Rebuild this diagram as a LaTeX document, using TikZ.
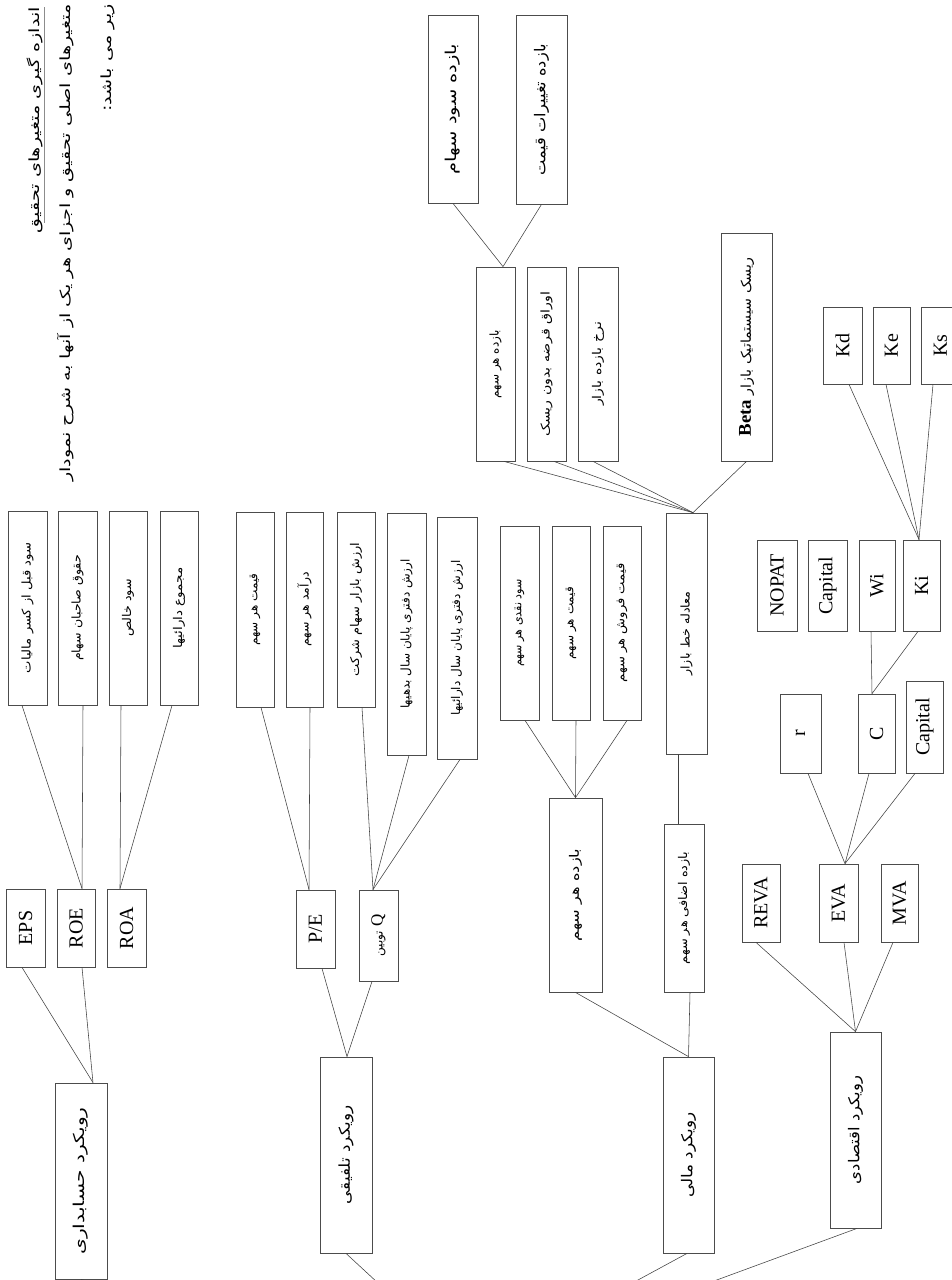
\documentclass[tikz,border=0pt]{standalone}
\usepackage{fontspec}
\usepackage{graphicx}
\setmainfont{Liberation Serif}
\newfontfamily\farsi[Script=Arabic]{DejaVu Sans}
\TeXXeTstate=1
\newcommand\fatxt[2][1.05]{\rotatebox{90}{\scalebox{#1}[1]{\farsi\beginR #2\endR}}}
\newcommand\latxt[1]{\rotatebox{90}{#1}}
\begin{document}
\begin{tikzpicture}[x=1pt,y=-1pt,
  box/.style={draw=black!70,line width=0.8pt,inner sep=0pt,fill=white},
  wh/.style 2 args={minimum width=#1pt,minimum height=#2pt},
  link/.style={draw=black!75,line width=0.55pt},
  ptxt/.style={font=\fontsize{12}{14}\selectfont},
  ptxtbig/.style={font=\fontsize{15}{17}\selectfont},
  ltxt/.style={font=\fontsize{20}{22}\selectfont},
  ttl/.style={inner sep=0pt,font=\fontsize{14}{16}\selectfont,anchor=north},
  ul/.style={draw=black!45,line width=0.5pt}]
\useasboundingbox (0,0) rectangle (952,1280);
\fill[white] (0,0) rectangle (952,1280);
\clip (0,0) rectangle (952,1280);

% title
\node[ttl] (t1) at (35,7) {\fatxt[1.37]{اندازه گیری متغیرهای تحقیق}};
\node[ttl] (t2) at (65.5,4) {\fatxt[1.37]{متغیرهای اصلی تحقیق و اجزای هر یک از آنها به شرح نمودار}};
\node[ttl] (t3) at (107.5,4) {\fatxt[1.37]{زیر می باشد:}};
\draw[ul] ([xshift=1pt]t1.north east) -- ([xshift=1pt,yshift=10pt]t1.south east);

% top group
\node[box,wh={50}{188},ptxtbig] (s1) at (453,109) {\fatxt[1.3]{بازده سود سهام}};
\node[box,wh={51}{189},ptxtbig] (s2) at (541.5,109.5) {\fatxt[1.08]{بازده تغییرات قیمت}};
\node[box,wh={39}{194},ptxt] (r1) at (495.5,364) {\fatxt[1.0]{بازده هر سهم}};
\node[box,wh={39}{194},ptxt] (r2) at (546.5,364) {\fatxt[1.18]{اوراق قرضه بدون ریسک}};
\node[box,wh={40}{194},ptxt] (r3) at (598,364) {\fatxt[1.17]{نرخ بازده بازار}};
\node[box,wh={51}{228},font=\fontsize{13.5}{15}\selectfont] (beta) at (746.5,347) {\fatxt[1.05]{ریسک سیستماتیک بازار \beginL{\rmfamily\bfseries\fontsize{18}{20}\selectfont Beta}\endL}};
\node[box,wh={39}{77},ltxt] (kd) at (842.5,345.5) {\latxt{Kd}};
\node[box,wh={37}{77},ltxt] (ke) at (891.5,345.5) {\latxt{Ke}};
\node[box,wh={39}{77},ltxt] (ks) at (940.5,345.5) {\latxt{Ks}};
\node[box,wh={40}{91},ltxt] (nopat) at (777,585.5) {\latxt{NOPAT}};
\node[box,wh={39}{91},ltxt] (capA) at (827.5,585.5) {\latxt{Capital}};
\node[box,wh={36}{91},ltxt] (wi) at (877,585.5) {\latxt{Wi}};
\node[box,wh={37}{91},ltxt] (ki) at (921.5,585.5) {\latxt{Ki}};

% left groups
\node[box,wh={39}{194},ptxt] (a1) at (27.5,608) {\fatxt[1.09]{سود قبل از کسر مالیات}};
\node[box,wh={39}{194},ptxt] (a2) at (77.5,608) {\fatxt[1.05]{حقوق صاحبان سهام}};
\node[box,wh={38}{194},ptxt] (a3) at (128,608) {\fatxt[1.05]{سود خالص}};
\node[box,wh={38}{194},ptxt] (a4) at (179,608) {\fatxt[1.12]{مجموع دارائیها}};
\node[box,wh={38}{195},ptxt] (b1) at (255,609.5) {\fatxt[1.0]{قیمت هر سهم}};
\node[box,wh={37}{195},ptxt] (b2) at (304.5,609.5) {\fatxt[1.04]{درآمد هر سهم}};
\node[box,wh={38}{195},ptxt] (b3) at (356,609.5) {\fatxt[1.08]{ارزش بازار سهام شرکت}};
\node[box,wh={39}{242},ptxt] (b4) at (406.5,634) {\fatxt[1.0]{ارزش دفتری پایان سال بدهیها}};
\node[box,wh={40}{242},ptxt] (b5) at (457,638) {\fatxt[1.0]{ارزش دفتری پایان سال دارائیها}};
\node[box,wh={39}{194},ptxt] (c1) at (519.5,623) {\fatxt[0.92]{سود نقدی هر سهم}};
\node[box,wh={38}{194},ptxt] (c2) at (571,623) {\fatxt[1.0]{قیمت هر سهم}};
\node[box,wh={38}{194},ptxt] (c3) at (622,623) {\fatxt[1.09]{قیمت فروش هر سهم}};
\node[box,wh={41}{241},ptxt] (mkt) at (686.5,633.5) {\fatxt[1.06]{معادله خط بازار}};

% middle level
\node[box,wh={39}{78},ltxt] (eps) at (25.5,928) {\latxt{EPS}};
\node[box,wh={38}{78},ltxt] (roe) at (76,928) {\latxt{ROE}};
\node[box,wh={39}{78},ltxt] (roa) at (126.5,928) {\latxt{ROA}};
\node[box,wh={39}{78},ltxt] (pe) at (315.5,929) {\latxt{P/E}};
\node[box,wh={39}{91},ptxt] (q) at (378.5,935.5) {\fatxt[1.0]{{\rmfamily\fontsize{17}{19}\selectfont Q} توبین}};
\node[box,wh={53}{194},font=\fontsize{13}{15}\selectfont] (ret) at (575.5,895) {\fatxt[1.25]{بازده هر سهم}};
\node[box,wh={40}{168},ptxt] (exc) at (684,908) {\fatxt[1.07]{بازده اضافی هر سهم}};
\node[box,wh={41}{79},ltxt] (rr) at (800.5,733.5) {\latxt{r}};
\node[box,wh={37}{79},ltxt] (cc) at (876.5,733.5) {\latxt{C}};
\node[box,wh={37}{92},ltxt] (capB) at (924.5,727) {\latxt{Capital}};
\node[box,wh={38}{78},ltxt] (reva) at (761,903) {\latxt{REVA}};
\node[box,wh={39}{78},ltxt] (eva) at (838.5,903) {\latxt{EVA}};
\node[box,wh={37}{78},ltxt] (mva) at (899.5,903) {\latxt{MVA}};

% approaches
\node[box,wh={52}{196},ptxtbig] (hes) at (81,1181) {\fatxt[1.35]{رویکرد حسابداری}};
\node[box,wh={52}{196},ptxtbig] (tal) at (346,1155) {\fatxt[1.12]{رویکرد تلفیقی}};
\node[box,wh={51}{196},ptxtbig] (mal) at (688.5,1155) {\fatxt[1.12]{رویکرد مالی}};
\node[box,wh={51}{196},ptxtbig] (eco) at (855.5,1130) {\fatxt[1.1]{رویکرد اقتصادی}};
\coordinate (root) at (472,1370);

% connectors
\draw[link] (s1.south) -- ([xshift=7.5pt]r1.north);
\draw[link] (s2.south) -- ([xshift=7.5pt]r1.north);
\draw[link] ([xshift=8.5pt]r1.south) -- ([xshift=6.5pt]mkt.north);
\draw[link] ([xshift=7.5pt]r2.south) -- ([xshift=6.5pt]mkt.north);
\draw[link] ([xshift=-5pt]r3.south) -- ([xshift=6.5pt]mkt.north);
\draw[link] (beta.south) -- ([xshift=6.5pt]mkt.north);
\draw[link] ([xshift=6.5pt]kd.south) -- ([xshift=-2.5pt]ki.north);
\draw[link] ([xshift=-5.5pt]ke.south) -- ([xshift=-2.5pt]ki.north);
\draw[link] ([xshift=-7.5pt]ks.south) -- ([xshift=-2.5pt]ki.north);
\draw[link] ([xshift=-6pt]wi.south) -- ([xshift=-4.5pt]cc.north);
\draw[link] ([xshift=-3.5pt]ki.south) -- ([xshift=-4.5pt]cc.north);

\draw[link] ([xshift=-5.5pt]a1.south) -- ([xshift=6pt]roe.north);
\draw[link] ([xshift=5.5pt]a2.south) -- ([xshift=6pt]roe.north);
\draw[link] ([xshift=-7pt]a3.south) -- ([xshift=-6.5pt]roa.north);
\draw[link] ([xshift=-7pt]a4.south) -- ([xshift=-6.5pt]roa.north);
\draw[link] ([xshift=6pt]b1.south) -- ([xshift=-6.5pt]pe.north);
\draw[link] ([xshift=5.5pt]b2.south) -- ([xshift=-6.5pt]pe.north);
\draw[link] ([xshift=6pt]b3.south) -- ([xshift=-5.5pt]q.north);
\draw[link] ([xshift=2.5pt]b4.south) -- ([xshift=-5.5pt]q.north);
\draw[link] ([xshift=3pt]b5.south) -- ([xshift=-5.5pt]q.north);
\draw[link] ([xshift=5.5pt]c1.south) -- (ret.north);
\draw[link] ([xshift=5pt]c2.south) -- (ret.north);
\draw[link] ([xshift=5pt]c3.south) -- (ret.north);
\draw[link] ([xshift=-8.5pt]mkt.south) -- ([xshift=-6pt]exc.north);

\draw[link] ([xshift=-3.5pt]eps.south) -- ([xshift=12pt]hes.north);
\draw[link] ([xshift=6pt]roe.south) -- ([xshift=12pt]hes.north);
\draw[link] ([xshift=6.5pt]pe.south) -- ([xshift=1pt]tal.north);
\draw[link] ([xshift=-6.5pt]q.south) -- ([xshift=1pt]tal.north);
\draw[link] (ret.south) -- (mal.north);
\draw[link] ([xshift=6pt]exc.south) -- (mal.north);
\draw[link] ([xshift=7.5pt]rr.south) -- ([xshift=6.5pt]eva.north);
\draw[link] ([xshift=-7.5pt]cc.south) -- ([xshift=6.5pt]eva.north);
\draw[link] ([xshift=-9.5pt]capB.south) -- ([xshift=6.5pt]eva.north);
\draw[link] ([xshift=-5pt]reva.south) -- (eco.north);
\draw[link] ([xshift=5.5pt]eva.south) -- (eco.north);
\draw[link] ([xshift=-6.5pt]mva.south) -- (eco.north);

\draw[link] (hes.south) -- (root);
\draw[link] (tal.south) -- (root);
\draw[link] ([xshift=-1.5pt]mal.south) -- (root);
\draw[link] ([xshift=1.5pt]eco.south) -- (root);
\end{tikzpicture}
\end{document}
